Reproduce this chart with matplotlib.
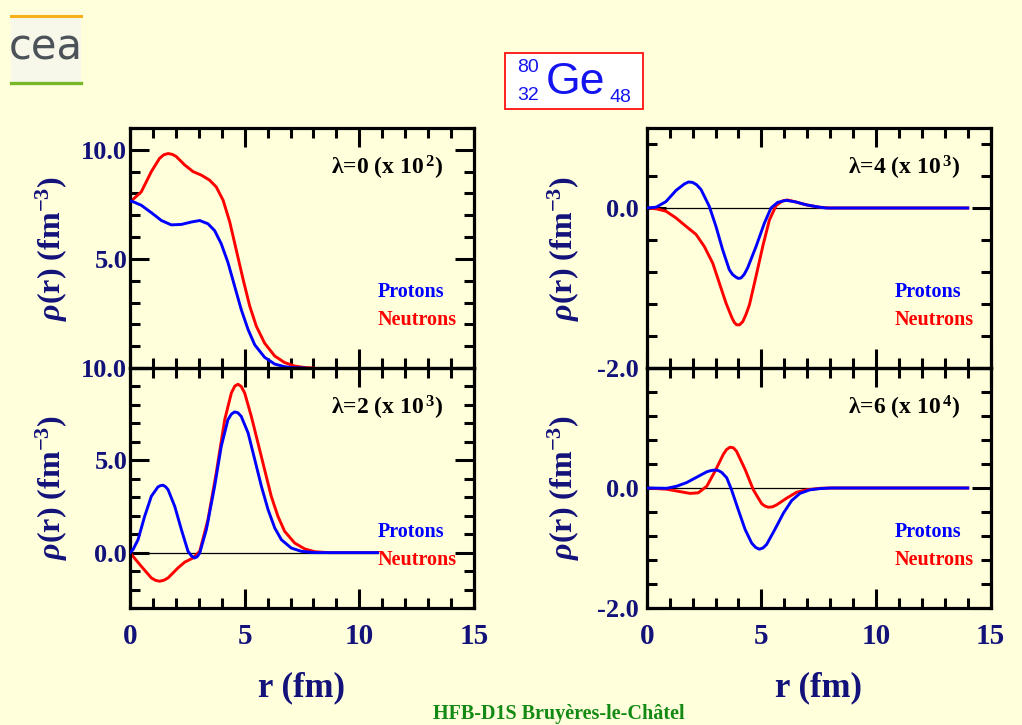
import matplotlib
matplotlib.use("Agg")
import matplotlib.pyplot as plt
from matplotlib.patches import Rectangle
from matplotlib.lines import Line2D
from matplotlib.ticker import FixedLocator, FixedFormatter, MultipleLocator, NullFormatter

# ---------------- data ----------------
# lambda = 0  (x 10^2)
r_l0_prot = [0.0, 0.09, 0.49, 0.93, 1.37, 1.80, 2.24, 2.67, 3.04, 3.40, 3.69, 3.98, 4.27, 4.56,
             4.85, 5.15, 5.44, 5.87, 6.31, 6.74, 7.18, 7.60]
rho_l0_prot = [7.65, 7.64, 7.46, 7.12, 6.76, 6.56, 6.58, 6.69, 6.76, 6.61, 6.30, 5.69, 4.84, 3.76,
               2.68, 1.76, 1.06, 0.49, 0.18, 0.06, 0.01, 0.0]
r_l0_neut = [0.0, 0.09, 0.49, 0.93, 1.29, 1.47, 1.66, 1.85, 2.02, 2.38, 2.75, 3.11, 3.47, 3.76,
             4.06, 4.35, 4.64, 4.93, 5.22, 5.51, 5.87, 6.31, 6.74, 7.18, 7.62, 8.00]
rho_l0_neut = [7.65, 7.69, 8.07, 9.00, 9.61, 9.77, 9.83, 9.79, 9.69, 9.31, 9.00, 8.84, 8.61, 8.30,
               7.69, 6.69, 5.38, 4.07, 2.84, 1.91, 1.14, 0.55, 0.25, 0.09, 0.02, 0.0]

# lambda = 2  (x 10^3)
r_l2_prot = [0.0, 0.13, 0.35, 0.64, 0.93, 1.22, 1.33, 1.44, 1.55, 1.66, 1.95, 2.24, 2.53, 2.68,
             2.82, 2.93, 3.04, 3.33, 3.69, 3.98, 4.27, 4.42, 4.56, 4.70, 4.85, 5.15, 5.44, 5.73,
             6.02, 6.31, 6.60, 7.03, 7.47, 8.05, 10.8]
rho_l2_prot = [0.0, 0.16, 0.70, 1.97, 3.05, 3.56, 3.63, 3.65, 3.57, 3.41, 2.51, 1.25, 0.07, -0.18,
               -0.29, -0.22, -0.02, 1.25, 3.59, 5.76, 7.20, 7.50, 7.62, 7.58, 7.38, 6.48, 5.04,
               3.59, 2.33, 1.34, 0.70, 0.25, 0.07, 0.0, 0.0]
r_l2_neut = [0.0, 0.13, 0.49, 0.93, 1.11, 1.29, 1.47, 1.66, 2.09, 2.38, 2.75, 3.04, 3.40, 3.76,
             4.13, 4.42, 4.57, 4.71, 4.85, 5.00, 5.29, 5.58, 5.87, 6.16, 6.45, 6.74, 7.18, 7.62,
             8.05, 8.63, 10.8]
rho_l2_neut = [0.0, -0.20, -0.74, -1.37, -1.50, -1.55, -1.50, -1.37, -0.83, -0.52, -0.29, 0.07,
               1.79, 4.31, 7.20, 8.65, 9.02, 9.12, 9.00, 8.65, 7.38, 5.94, 4.49, 3.05, 1.97, 1.16,
               0.52, 0.20, 0.05, 0.0, 0.0]

# lambda = 4  (x 10^3)
r_l4_prot = [0.0, 0.41, 0.84, 1.28, 1.64, 1.82, 2.00, 2.18, 2.37, 2.73, 3.02, 3.31, 3.60, 3.74,
             3.87, 3.99, 4.11, 4.25, 4.40, 4.77, 5.13, 5.42, 5.71, 6.08, 6.51, 6.95, 7.53, 7.82,
             14.0]
rho_l4_prot = [0.0, 0.01, 0.08, 0.22, 0.30, 0.325, 0.32, 0.29, 0.23, 0.02, -0.23, -0.52, -0.77,
               -0.83, -0.86, -0.88, -0.875, -0.83, -0.75, -0.48, -0.19, 0.0, 0.07, 0.096, 0.075,
               0.04, 0.01, 0.0, 0.0]
r_l4_neut = [0.0, 0.41, 0.84, 1.28, 1.72, 2.15, 2.51, 2.88, 3.17, 3.46, 3.72, 3.82, 3.92, 4.05,
             4.19, 4.33, 4.48, 4.77, 5.06, 5.35, 5.64, 5.93, 6.15, 6.51, 6.95, 7.53, 7.97, 14.0]
rho_l4_neut = [0.0, -0.01, -0.04, -0.125, -0.23, -0.33, -0.48, -0.69, -0.94, -1.19, -1.375, -1.43,
               -1.46, -1.46, -1.42, -1.33, -1.21, -0.85, -0.48, -0.15, 0.03, 0.09, 0.10, 0.075,
               0.04, 0.01, 0.0, 0.0]

# lambda = 6  (x 10^4)
r_l6_prot = [0.0, 0.87, 1.31, 1.74, 2.18, 2.62, 2.80, 2.98, 3.13, 3.27, 3.49, 3.70, 3.99, 4.29,
             4.58, 4.75, 4.91, 5.07, 5.23, 5.59, 5.96, 6.32, 6.68, 7.12, 7.56, 8.00, 14.0]
rho_l6_prot = [0.0, -0.005, 0.03, 0.09, 0.18, 0.27, 0.29, 0.30, 0.29, 0.26, 0.17, -0.03, -0.36,
               -0.69, -0.92, -0.99, -1.02, -1.00, -0.94, -0.69, -0.42, -0.21, -0.09, -0.03,
               -0.01, 0.0, 0.0]
r_l6_neut = [0.0, 0.87, 1.45, 1.89, 2.25, 2.62, 2.98, 3.34, 3.48, 3.63, 3.78, 3.92, 4.29, 4.65,
             5.01, 5.15, 5.30, 5.48, 5.67, 6.10, 6.54, 6.97, 7.56, 8.00, 14.0]
rho_l6_neut = [0.0, -0.02, -0.06, -0.09, -0.08, 0.03, 0.28, 0.56, 0.64, 0.68, 0.67, 0.61, 0.31,
               -0.03, -0.26, -0.30, -0.32, -0.315, -0.28, -0.17, -0.07, -0.03, -0.005, 0.0, 0.0]

panel_titles = ["λ=0 (x 10$^{\\,\\mathbf{2}}$)", "λ=4 (x 10$^{\\,\\mathbf{3}}$)",
                "λ=2 (x 10$^{\\,\\mathbf{3}}$)", "λ=6 (x 10$^{\\,\\mathbf{4}}$)"]
series_names = ["Protons", "Neutrons"]

x_ticks = [0, 5, 10, 15]
x_tick_labels = ["0", "5", "10", "15"]
yt_l0 = [0, 5, 10];  ytl_l0 = ["", "5.0", "10.0"]
yt_l2 = [0, 5, 10];  ytl_l2 = ["0.0", "5.0", "10.0"]
yt_l4 = [-2, 0];     ytl_l4 = ["-2.0", "0.0"]
yt_l6 = [-2, 0, 2];  ytl_l6 = ["-2.0", "0.0", ""]

# ---------------- style ----------------
BG = "#FFFFDC"
NAVY = "#12127a"
BLUE = "#0000ff"
RED = "#ff0000"
plt.rcParams["font.family"] = ["Liberation Serif", "DejaVu Serif"]
plt.rcParams["font.weight"] = "bold"
plt.rcParams["mathtext.fontset"] = "custom"
plt.rcParams["mathtext.rm"] = "Liberation Serif"
plt.rcParams["mathtext.it"] = "Liberation Serif:italic"
plt.rcParams["mathtext.bf"] = "Liberation Serif:bold"

W, H = 1022, 725
fig = plt.figure(figsize=(W / 100, H / 100), dpi=100, facecolor=BG)

def fx(px):
    return px / W

def fy(py):
    return 1 - py / H

left_x, right_x, aw = 130, 646.7, 344
top_y, mid_y, bot_y = 128, 368, 608

ax_tl = fig.add_axes([fx(left_x), fy(mid_y), aw / W, (mid_y - top_y) / H])
ax_tr = fig.add_axes([fx(right_x), fy(mid_y), aw / W, (mid_y - top_y) / H])
ax_bl = fig.add_axes([fx(left_x), fy(bot_y), aw / W, (bot_y - mid_y) / H])
ax_br = fig.add_axes([fx(right_x), fy(bot_y), aw / W, (bot_y - mid_y) / H])

panels = [
    (ax_tl, r_l0_prot, rho_l0_prot, r_l0_neut, rho_l0_neut, (0, 11), yt_l0, ytl_l0, 1, 2, False, False, panel_titles[0]),
    (ax_tr, r_l4_prot, rho_l4_prot, r_l4_neut, rho_l4_neut, (-2, 1), yt_l4, ytl_l4, 0.4, 6, False, True, panel_titles[1]),
    (ax_bl, r_l2_prot, rho_l2_prot, r_l2_neut, rho_l2_neut, (-3, 10), yt_l2, ytl_l2, 1, 2, True, True, panel_titles[2]),
    (ax_br, r_l6_prot, rho_l6_prot, r_l6_neut, rho_l6_neut, (-2, 2), yt_l6, ytl_l6, 0.4, 6, True, True, panel_titles[3]),
]

for (ax, rp, yp, rn, yn, ylim, yt, ytl, yminor, ypad, showx, zline, title) in panels:
    ax.set_facecolor("none")
    if zline:
        ax.hlines(0, min(rp + rn), max(rp + rn), color="black", lw=0.9, zorder=1)
    ax.plot(rn, yn, color=RED, lw=2.1, zorder=2, solid_joinstyle="round")
    ax.plot(rp, yp, color=BLUE, lw=2.1, zorder=3, solid_joinstyle="round")
    ax.set_xlim(0, 15)
    ax.set_ylim(*ylim)
    ax.xaxis.set_major_locator(FixedLocator(x_ticks))
    if showx:
        ax.xaxis.set_major_formatter(FixedFormatter(x_tick_labels))
    else:
        ax.xaxis.set_major_formatter(NullFormatter())
    ax.xaxis.set_minor_locator(MultipleLocator(1))
    ax.yaxis.set_major_locator(FixedLocator(yt))
    ax.yaxis.set_major_formatter(FixedFormatter(ytl))
    ax.yaxis.set_minor_locator(MultipleLocator(yminor))
    for s in ax.spines.values():
        s.set_linewidth(2.3)
    ax.tick_params(which="both", direction="in", top=True, right=True, width=2.2, color="black")
    ax.tick_params(which="major", length=14)
    ax.tick_params(which="minor", length=7)
    ax.tick_params(axis="y", which="major", pad=ypad, labelsize=19, labelcolor=NAVY)
    ax.tick_params(axis="x", which="major", pad=11, labelsize=21, labelcolor=NAVY)
    ax.text(0.91, 0.835, title, transform=ax.transAxes, ha="right", va="center",
            fontsize=17, color="black")
    ax.text(0.72, 0.315, series_names[0], transform=ax.transAxes, ha="left", va="center",
            fontsize=14.5, color=BLUE)
    ax.text(0.72, 0.202, series_names[1], transform=ax.transAxes, ha="left", va="center",
            fontsize=14.5, color=RED)

ylab = "$\\rho$(r) (fm$^{\\mathbf{-3}}$)"
for (xc, yc) in [(52, 249), (52, 488), (564, 249), (564, 488)]:
    fig.text(fx(xc), fy(yc), ylab, rotation=90, ha="center", va="center",
             fontsize=23, color=NAVY)
for xc in [302, 818]:
    fig.text(fx(xc), fy(688), "r (fm)", ha="center", va="center", fontsize=25, color=NAVY)

# footer
fig.text(fx(559), fy(714), "HFB-D1S Bruyères-le-Châtel", ha="center", va="center",
         fontsize=14.5, color="#138a13")

# title box
fig.patches.append(Rectangle((fx(505), fy(109)), (643 - 505) / W, (109 - 53) / H,
                             transform=fig.transFigure, facecolor="white",
                             edgecolor="#ff1010", lw=1.3, zorder=0))
fig.text(fx(575), fy(82), "Ge", ha="center", va="center", fontsize=32, color="#1414f0",
         family="Liberation Sans", weight="normal")
fig.text(fx(528), fy(67), "80", ha="center", va="center", fontsize=14, color="#1414f0",
         family="Liberation Sans", weight="normal")
fig.text(fx(528), fy(95), "32", ha="center", va="center", fontsize=14, color="#1414f0",
         family="Liberation Sans", weight="normal")
fig.text(fx(620), fy(97), "48", ha="center", va="center", fontsize=14, color="#1414f0",
         family="Liberation Sans", weight="normal")

# logo
fig.patches.append(Rectangle((fx(11), fy(82)), 70 / W, 66 / H, transform=fig.transFigure,
                             facecolor="#f8f8ea", edgecolor="none", zorder=0))
fig.lines.append(Line2D([fx(11), fx(81)], [fy(16), fy(16)], transform=fig.transFigure,
                        color="#f5b01a", lw=2.2))
fig.lines.append(Line2D([fx(11), fx(81)], [fy(82.5), fy(82.5)], transform=fig.transFigure,
                        color="#78b828", lw=2.4))
fig.text(fx(46), fy(47), "cea", ha="center", va="center", fontsize=30, color="#4b5258",
         family="DejaVu Sans", weight="normal")

fig.savefig("out.png", dpi=100, facecolor=BG)
